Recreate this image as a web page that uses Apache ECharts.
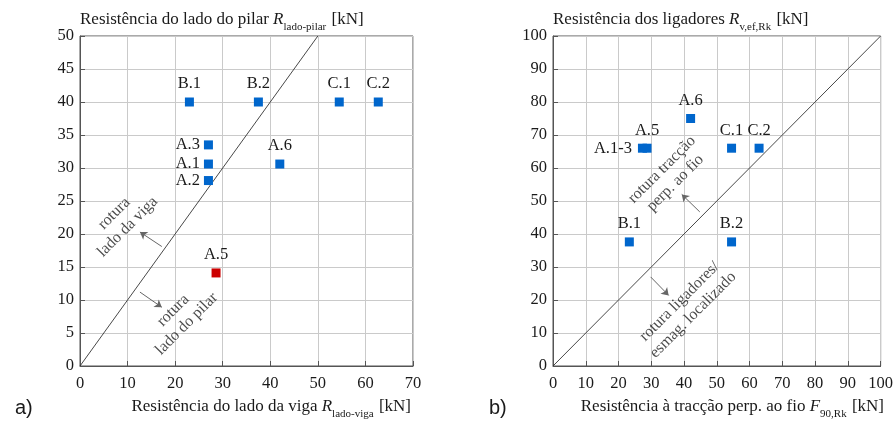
<!DOCTYPE html>
<html>
<head>
<meta charset="utf-8">
<script src="https://cdn.jsdelivr.net/npm/echarts@6/dist/echarts.min.js"></script>
<style>
html,body{margin:0;padding:0;background:#fff;}
#c{width:896px;height:424px;}
</style>
</head>
<body>
<div id="c"></div>
<script>
// ---- Data (a) ----
const leftNames = ['B.1', 'B.2', 'C.1', 'C.2', 'A.3', 'A.1', 'A.2', 'A.6', 'A.5'];
const leftX = [23.0, 37.5, 54.5, 62.7, 27.0, 27.0, 27.0, 42.0, 28.6];
const leftY = [40, 40, 40, 40, 33.5, 30.6, 28.1, 30.6, 14.1];
const leftLine = [[0, 0], [50, 50]];
const leftXTicks = [0, 10, 20, 30, 40, 50, 60, 70];
const leftYTicks = [0, 5, 10, 15, 20, 25, 30, 35, 40, 45, 50];

// ---- Data (b) ----
const rightNames = ['A.1-3', 'A.5', 'A.6', 'C.1', 'C.2', 'B.1', 'B.2'];
const rightX = [27.3, 28.7, 42.0, 54.5, 62.9, 23.3, 54.5];
const rightY = [66, 66, 75, 66, 66, 37.6, 37.6];
const rightLine = [[0, 0], [100, 100]];
const rightTicks = [0, 10, 20, 30, 40, 50, 60, 70, 80, 90, 100];

// annotations (data coordinates)
const leftNotes = [
  { text: 'rotura\nlado da viga', x: 8.6, y: 22.1 },
  { text: 'rotura\nlado do pilar', x: 21.0, y: 7.4 }
];
const leftArrows = [
  [[17.2, 18.1], [12.6, 20.3]],
  [[12.6, 11.2], [17.2, 8.9]]
];
const rightNotes = [
  { text: 'rotura tracção\nperp. ao fio', x: 35.3, y: 57.5 },
  { text: 'rotura ligadores/\nesmag. localizado', x: 40.7, y: 17.5 }
];
const rightArrows = [
  [[44.8, 46.7], [39.3, 52.0]],
  [[29.8, 27.0], [35.3, 21.4]]
];

// ---- styles ----
const FONT = 'Liberation Serif';
const TXT = '#1a1a1a';
const BLUE = '#0066cc';
const RED = '#cc0000';
const leftSideLabels = new Set(['A.3', 'A.1', 'A.2']);
const rightSideLabels = new Set(['A.1-3']);
const redPoints = new Set(['A.5']);

function pts(names, xs, ys, leftSet, redSet) {
  return names.map((n, i) => ({
    name: n,
    value: [xs[i], ys[i]],
    itemStyle: { color: redSet.has(n) ? RED : BLUE, opacity: 1 },
    label: leftSet.has(n)
      ? { position: 'left', distance: leftSet === rightSideLabels ? 6 : 4 }
      : { position: 'top', distance: 5 }
  }));
}

function axis(gi, min, max, interval, pos) {
  return {
    type: 'value', gridIndex: gi, min: min, max: max, interval: interval,
    position: pos,
    axisLine: { show: true, onZero: false, lineStyle: { color: '#555', width: 1 } },
    axisTick: { show: true, inside: true, length: 5, lineStyle: { color: '#555' } },
    axisLabel: { color: TXT, fontFamily: FONT, fontSize: 16.5, margin: pos === 'bottom' ? 9 : 6 },
    splitLine: { show: true, lineStyle: { color: '#cacaca', width: 1 } }
  };
}

const richT = {
  a: { fontFamily: FONT, fontSize: 17, fontWeight: 'normal', color: TXT, lineHeight: 20 },
  i: { fontFamily: FONT, fontSize: 17, fontWeight: 'normal', fontStyle: 'italic', color: TXT, lineHeight: 20 },
  s: { fontFamily: FONT, fontSize: 11, fontWeight: 'normal', color: TXT, lineHeight: 12, verticalAlign: 'bottom', padding: [0, 1, -3, 0] }
};
const tStyle = { fontWeight: 'normal', rich: richT };

function noteSeries(notes, gi) {
  return {
    type: 'scatter', xAxisIndex: gi, yAxisIndex: gi, symbolSize: 0, silent: true,
    data: notes.map(n => ({ value: [n.x, n.y], label: { formatter: n.text } })),
    label: {
      show: true, position: 'inside', rotate: 45, align: 'center', verticalAlign: 'middle',
      fontFamily: FONT, fontSize: 16, lineHeight: 19, color: TXT
    },
    z: 5
  };
}

function arrowSeries(arrows, gi) {
  return {
    type: 'lines', coordinateSystem: 'cartesian2d', xAxisIndex: gi, yAxisIndex: gi,
    silent: true, symbol: ['none', 'arrow'], symbolSize: 7,
    lineStyle: { color: '#666', width: 1, opacity: 1 },
    data: arrows.map(a => ({ coords: a })),
    z: 5
  };
}

const chart = echarts.init(document.getElementById('c'));
chart.setOption({
  animation: false,
  backgroundColor: '#fff',
  title: [
    { text: '{a|Resistência do lado do pilar }{i|R}{s|lado-pilar}{a| [kN]}', left: 75, top: 5, textStyle: tStyle },
    { text: '{a|Resistência dos ligadores }{i|R}{s|v,ef,Rk}{a| [kN]}', left: 548, top: 5, textStyle: tStyle },
    { text: '{a|Resistência do lado da viga }{i|R}{s|lado-viga}{a| [kN]}', right: 480, top: 392, textStyle: tStyle },
    { text: '{a|Resistência à tracção perp. ao fio }{i|F}{s|90,Rk}{a| [kN]}', right: 7, top: 392, textStyle: tStyle },
    { text: 'a)', left: 10, top: 393, textStyle: { fontFamily: 'Liberation Sans', fontSize: 20, fontWeight: 'normal', color: TXT } },
    { text: 'b)', left: 484, top: 393, textStyle: { fontFamily: 'Liberation Sans', fontSize: 20, fontWeight: 'normal', color: TXT } }
  ],
  grid: [
    { left: 80, top: 36, width: 333, height: 330, show: true, borderColor: '#555', borderWidth: 1, backgroundColor: 'transparent' },
    { left: 553, top: 36, width: 332, height: 330, show: true, borderColor: '#555', borderWidth: 1, backgroundColor: 'transparent' }
  ],
  xAxis: [
    axis(0, leftXTicks[0], leftXTicks[leftXTicks.length - 1], leftXTicks[1] - leftXTicks[0], 'bottom'),
    axis(1, rightTicks[0], rightTicks[rightTicks.length - 1], rightTicks[1] - rightTicks[0], 'bottom')
  ],
  yAxis: [
    axis(0, leftYTicks[0], leftYTicks[leftYTicks.length - 1], leftYTicks[1] - leftYTicks[0], 'left'),
    axis(1, rightTicks[0], rightTicks[rightTicks.length - 1], rightTicks[1] - rightTicks[0], 'left')
  ],
  series: [
    { type: 'line', xAxisIndex: 0, yAxisIndex: 0, data: leftLine, symbol: 'none', silent: true,
      lineStyle: { color: '#333', width: 0.9 }, z: 3 },
    { type: 'line', xAxisIndex: 1, yAxisIndex: 1, data: rightLine, symbol: 'none', silent: true,
      lineStyle: { color: '#333', width: 0.9 }, z: 3 },
    { type: 'scatter', xAxisIndex: 0, yAxisIndex: 0, symbol: 'rect', symbolSize: 9,
      itemStyle: { opacity: 1 },
      data: pts(leftNames, leftX, leftY, leftSideLabels, redPoints),
      label: { show: true, formatter: '{b}', fontFamily: FONT, fontSize: 16.5, color: TXT }, z: 6 },
    { type: 'scatter', xAxisIndex: 1, yAxisIndex: 1, symbol: 'rect', symbolSize: 9,
      itemStyle: { opacity: 1 },
      data: pts(rightNames, rightX, rightY, rightSideLabels, new Set()),
      label: { show: true, formatter: '{b}', fontFamily: FONT, fontSize: 16.5, color: TXT }, z: 6 },
    noteSeries(leftNotes, 0),
    noteSeries(rightNotes, 1),
    arrowSeries(leftArrows, 0),
    arrowSeries(rightArrows, 1)
  ]
});
</script>
</body>
</html>
